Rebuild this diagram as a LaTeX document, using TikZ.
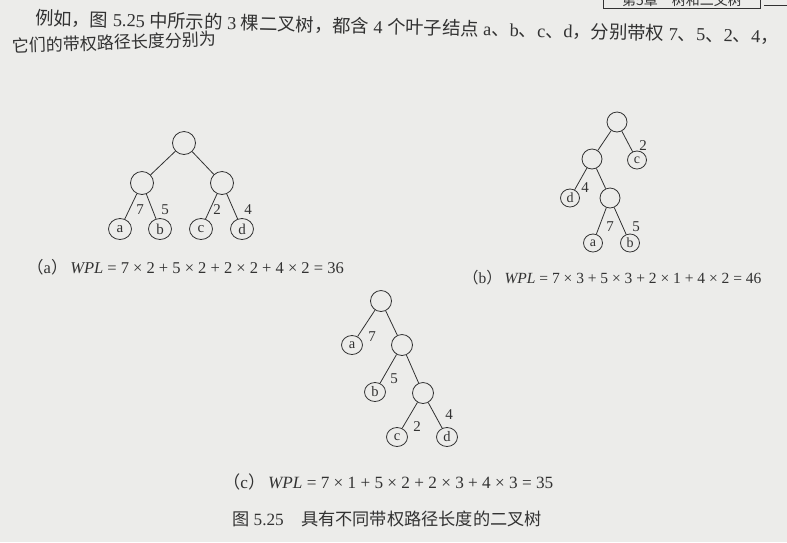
\documentclass[tikz,border=0pt]{standalone}
\usepackage{fontspec}
\setmainfont{Liberation Serif}
\newfontfamily\cjk{Noto Sans CJK SC}
\usetikzlibrary{shapes.geometric}
\definecolor{ink}{RGB}{50,50,50}
\definecolor{paper}{RGB}{236,236,234}
\begin{document}
\begin{tikzpicture}[x=1pt,y=-1pt,
  inA/.style={circle,draw=ink,line width=0.8pt,minimum size=23pt,inner sep=0pt},
  inB/.style={circle,draw=ink,line width=0.8pt,minimum size=20pt,inner sep=0pt},
  inC/.style={circle,draw=ink,line width=0.8pt,minimum size=21pt,inner sep=0pt},
  lfA/.style={ellipse,draw=ink,line width=0.8pt,minimum width=23pt,minimum height=21pt,inner sep=0pt,text=ink,font=\fontsize{15}{15}\selectfont},
  lfB/.style={ellipse,draw=ink,line width=0.8pt,minimum width=19pt,minimum height=18pt,inner sep=0pt,text=ink,font=\fontsize{14}{14}\selectfont},
  lfC/.style={ellipse,draw=ink,line width=0.8pt,minimum width=21pt,minimum height=19pt,inner sep=0pt,text=ink,font=\fontsize{14.5}{14.5}\selectfont},
  edge/.style={draw=ink,line width=0.8pt},
  wt/.style={text=ink,inner sep=0pt,font=\fontsize{15}{15}\selectfont},
  captxt/.style={text=ink,inner sep=0pt,anchor=west},
  body/.style={text=ink,inner sep=0pt,anchor=west}]
\fill[paper] (0,0) rectangle (787,542);
\useasboundingbox (0,0) rectangle (787,542);
% header
\begin{scope}
\clip (0,0) rectangle (787,542);
\draw[ink,line width=0.6pt] (603,-2) -- (603,8) -- (760,8) -- (760,-2);
\draw[ink,line width=0.6pt] (764,5) -- (787,5);
\node[text=ink,font=\cjk\fontsize{14}{14}\selectfont] (hd) at (682,0) {第5章\quad 树和二叉树};
\end{scope}
% body text
\node[body,rotate=-1.4,font=\fontsize{18.3}{18.3}\selectfont] (l1) at (35,18) {{\cjk 例如，图} 5.25 {\cjk 中所示的} 3 {\cjk 棵二叉树，都含} 4 {\cjk 个叶子结点} a{\cjk 、}b{\cjk 、}c{\cjk 、}d{\cjk ，分别带权} 7{\cjk 、}5{\cjk 、}2{\cjk 、}4{\cjk ，}};
\node[body,rotate=2,font=\fontsize{17}{17}\selectfont] (l2) at (12,46) {\cjk 它们的带权路径长度分别为};
% tree a
\node[inA] (ar) at (184,143) {};
\node[inA] (al) at (142,183) {};
\node[inA] (aR) at (222,183) {};
\node[lfA] (aa) at (120,229) {a};
\node[lfA] (ab) at (160,229) {b};
\node[lfA] (ac) at (201,229) {c};
\node[lfA] (ad) at (242,229) {d};
\draw[edge] (ar) -- (al);
\draw[edge] (ar) -- (aR);
\draw[edge] (al) -- (aa);
\draw[edge] (al) -- (ab);
\draw[edge] (aR) -- (ac);
\draw[edge] (aR) -- (ad);
\node[wt] (aw7) at (140,210) {7};
\node[wt] (aw5) at (165,210) {5};
\node[wt] (aw2) at (217,210) {2};
\node[wt] (aw4) at (248,210) {4};
% tree b
\node[inB] (br) at (617,122) {};
\node[lfB] (bc) at (637,160) {c};
\node[inB] (bl) at (592,159) {};
\node[lfB] (bd) at (570,198) {d};
\node[inB] (bi) at (610,198) {};
\node[lfB] (ba) at (593,243) {a};
\node[lfB] (bb) at (630,243) {b};
\draw[edge] (br) -- (bl);
\draw[edge] (br) -- (bc);
\draw[edge] (bl) -- (bd);
\draw[edge] (bl) -- (bi);
\draw[edge] (bi) -- (ba);
\draw[edge] (bi) -- (bb);
\node[wt] (bw2) at (643,146) {2};
\node[wt] (bw4) at (585,188) {4};
\node[wt] (bw7) at (610,227) {7};
\node[wt] (bw5) at (636,227) {5};
% tree c
\node[inC] (cr) at (381,301) {};
\node[lfC] (ca) at (352,345) {a};
\node[inC] (c1) at (402,345) {};
\node[lfC] (cb) at (375,392) {b};
\node[inC] (c2) at (423,393) {};
\node[lfC] (cc) at (397,437) {c};
\node[lfC] (cd) at (447,437) {d};
\draw[edge] (cr) -- (ca);
\draw[edge] (cr) -- (c1);
\draw[edge] (c1) -- (cb);
\draw[edge] (c1) -- (c2);
\draw[edge] (c2) -- (cc);
\draw[edge] (c2) -- (cd);
\node[wt] (cw7) at (372,337) {7};
\node[wt] (cw5) at (394,379) {5};
\node[wt] (cw2) at (417,427) {2};
\node[wt] (cw4) at (449,415) {4};
% captions
\node[captxt,font=\fontsize{16.5}{16.5}\selectfont] (capa) at (27,267) {{\cjk （}a{\cjk ）}\,\textit{WPL} = 7 × 2 + 5 × 2 + 2 × 2 + 4 × 2 = 36};
\node[captxt,font=\fontsize{15.5}{15.5}\selectfont] (capb) at (463,278) {{\cjk （}b{\cjk ）}\,\textit{WPL} = 7 × 3 + 5 × 3 + 2 × 1 + 4 × 2 = 46};
\node[captxt,font=\fontsize{17.2}{17.2}\selectfont] (capc) at (223,482) {{\cjk （}c{\cjk ）}\,\textit{WPL} = 7 × 1 + 5 × 2 + 2 × 3 + 4 × 3 = 35};
\node[captxt,font=\fontsize{17.2}{17.2}\selectfont] (fig) at (232,519) {{\cjk 图} 5.25\quad{\cjk 具有不同带权路径长度的二叉树}};
\end{tikzpicture}
\end{document}
